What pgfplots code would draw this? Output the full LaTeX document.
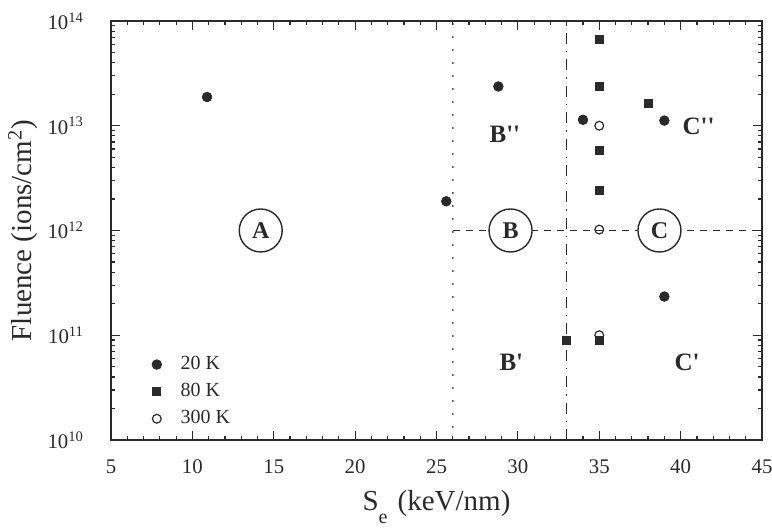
\documentclass[border=0pt]{standalone}
\usepackage{fontspec}
\setmainfont{Liberation Serif}
\usepackage{pgfplots}
\pgfplotsset{compat=1.18}
\definecolor{ink}{HTML}{2A2A2A}

\begin{document}
\begin{tikzpicture}
\begin{axis}[
  name=main,
  scale only axis,
  width=325.5pt, height=209.5pt,
  xmin=5, xmax=45,
  ymode=log, ymin=1e10, ymax=1e14,
  xtick={5,10,...,45}, minor x tick num=4,
  ytick={1e10,1e11,1e12,1e13,1e14},
  yticklabels={10\textsuperscript{10},10\textsuperscript{11},10\textsuperscript{12},10\textsuperscript{13},10\textsuperscript{14}},
  tick pos=both, tick align=inside,
  major tick length=4.5pt, minor tick length=2.2pt,
  axis line style={ink, line width=1.1pt},
  tick style={ink, line width=0.6pt},
  /pgf/number format/assume math mode=true,
  tick label style={font=\fontsize{10.4}{12}\selectfont, text=ink},
  xticklabel style={yshift=-6.5pt},
  yticklabel style={xshift=-10pt},
  xlabel={S\raisebox{-0.45em}{\fontsize{10}{10}\selectfont e}\hspace{0.35em}(keV/nm)},
  ylabel={Fluence (ions/cm\textsuperscript{2})},
  label style={font=\fontsize{14.5}{16}\selectfont, text=ink},
  xlabel style={at={(axis description cs:0.5,-0.16)}, anchor=center},
  ylabel style={at={(axis description cs:-0.135,0.5)}, anchor=center},
  legend style={draw=none, fill=none, inner sep=0pt, outer sep=0pt,
    at={(0.063,0.2124)}, anchor=north west,
    nodes={inner sep=2.7pt},
    font=\fontsize{10}{11}\selectfont, column sep=6.8pt, row sep=0pt,
    legend cell align=left, text=ink},
  clip=false,
]
% region boundaries
\draw[ink, line width=1pt, line cap=round, dash pattern=on 0pt off 6.5pt] (axis cs:26,1e10) -- (axis cs:26,1e14);
\draw[ink, line width=0.7pt, dash pattern=on 5.5pt off 3.5pt on 0.7pt off 3.5pt] (axis cs:33,1e10) -- (axis cs:33,1e14);
\draw[ink, line width=0.7pt, dash pattern=on 3.5pt off 3pt] (axis cs:26,1e12) -- (axis cs:45,1e12);

\addplot[only marks, mark=*, mark size=2.4pt, ink, mark options={fill=ink}] coordinates {
  (10.9,1.88e13) (25.6,1.9e12) (28.8,2.37e13) (34,1.14e13) (39,1.12e13) (39,2.34e11)
};
\addlegendentry{20 K}
\addplot[only marks, mark=square*, mark size=2pt, ink, mark options={fill=ink}] coordinates {
  (33,9e10) (35,9e10) (35,2.4e12) (35,5.8e12) (35,2.4e13) (35,6.7e13) (38,1.62e13)
};
\addlegendentry{80 K}
\addplot[only marks, mark=o, mark size=2.2pt, ink, mark options={fill=white, line width=0.6pt}] coordinates {
  (35,1e11) (35,1.02e12) (35,1e13)
};
\addlegendentry{300 K}

% region labels
\tikzset{reg/.style={draw=ink, circle, line width=0.7pt, minimum size=21.5pt, inner sep=0pt, fill=white, text=ink, font=\bfseries\fontsize{12}{13}\selectfont},
         lab/.style={text=ink, font=\bfseries\fontsize{12.5}{13}\selectfont}}
\node[reg] at (axis cs:14.2,1e12) {A};
\node[reg] at (axis cs:29.55,1e12) {B};
\node[reg] at (axis cs:38.7,1e12) {C};
\node[lab] at (axis cs:29.2,8.2e12) {B\textquotesingle\textquotesingle};
\node[lab] at (axis cs:41.1,9.8e12) {C\textquotesingle\textquotesingle};
\node[lab] at (axis cs:29.6,5.5e10) {B\textquotesingle};
\node[lab] at (axis cs:40.4,5.5e10) {C\textquotesingle};
\end{axis}
\pgfresetboundingbox
\path (main.south west) ++(-55.5pt,-44.5pt) rectangle ([shift={(5pt,10.5pt)}]main.north east);
\end{tikzpicture}
\end{document}
